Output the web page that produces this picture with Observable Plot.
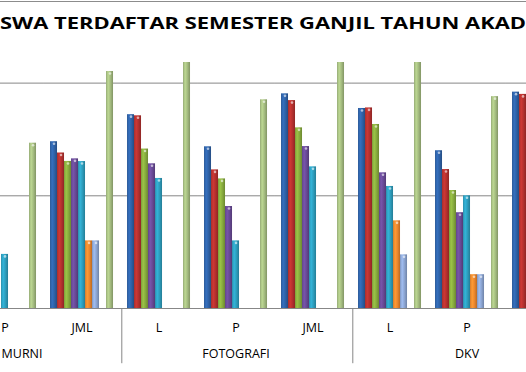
<!DOCTYPE html>
<html><head><meta charset="utf-8">
<script src="https://cdn.jsdelivr.net/npm/d3@7"></script>
<script src="https://cdn.jsdelivr.net/npm/@observablehq/plot@0.6"></script>
<style>
html,body{margin:0;padding:0;background:#fff;}
#wrap{position:relative;width:526px;height:372px;overflow:hidden;background:#fff;font-family:"Open Sans",sans-serif;}
#head{position:absolute;left:0;top:0;}
#chart{position:absolute;left:-35.37px;top:40px;width:619px;height:332px;}
#chart svg{max-width:none !important;width:619px !important;height:332px !important;display:block;}
</style></head><body>
<div id="wrap">
<svg id="head" width="526" height="40"></svg>
<div id="chart"></div>
</div>
<script>
// ---- data ----
const titleText = "SWA TERDAFTAR SEMESTER GANJIL TAHUN AKAD";
const groups     = ["MURNI", "MURNI", "FOTOGRAFI", "FOTOGRAFI", "FOTOGRAFI", "DKV", "DKV", "DKV"];
const categories = ["P", "JML", "L", "P", "JML", "L", "P", "JML"];
const seriesKeys = ["s1", "s2", "s3", "s4", "s5", "s6", "s7", "s8", "s9"];
const seriesColors = ["#2f63a9", "#b7312f", "#8aae3f", "#6a4b98", "#2ea0c0", "#ef892e", "#8ea8d6", "#d99694", "#a7bf82"];
// null = outside the visible crop of the picture
const s1 = [null, 148, 172, 143.5, 190.5, 177.5, 140, 192];
const s2 = [null, 138, 171, 123, 184.5, 178, 123.3, 190];
const s3 = [null, 130.5, 141.5, 115, 160.3, 163.3, 104.7, null];
const s4 = [null, 132.8, 128.4, 90.5, 143.7, 120.4, 85, null];
const s5 = [48, 130.4, 115.4, 60, 125.7, 108.3, 100, null];
const s6 = [0, 60, 0, 0, 0, 77.8, 30, null];
const s7 = [0, 60, 0, 0, 0, 47.6, 30, null];
const s8 = [0, 0, 0, 0, 0, 0, 0, null];
const s9 = [146.7, 210.3, 250, 185.2, 300, 260, 188, null];
const gridValues = [100, 200];

const seriesValues = {s1, s2, s3, s4, s5, s6, s7, s8, s9};
const keys = categories.map((c, i) => groups[i] + "|" + c);
const rows = [];
categories.forEach((c, i) => {
  seriesKeys.forEach(s => {
    const v = seriesValues[s][i];
    if (v != null) rows.push({key: keys[i], i, group: groups[i], cat: c, series: s, value: v});
  });
});
const isGroupStart = i => i > 0 && groups[i] !== groups[i - 1];
const groupMid = {MURNI: 0, FOTOGRAFI: 3, DKV: 6};

const facetW = 77.37;
const bandW = facetW / 10.5;

const chart = Plot.plot({
  width: facetW * 8, height: 332,
  marginTop: 22, marginBottom: 64, marginLeft: 0, marginRight: 0,
  style: {fontFamily: "'Open Sans', sans-serif", fontSize: "12.5px", color: "#000", background: "transparent", overflow: "visible"},
  facet: {data: rows, x: "key"},
  fx: {domain: keys, padding: 0, axis: "bottom", tickSize: 0, tickPadding: 15, label: null, tickFormat: k => k.split("|")[1]},
  x: {domain: seriesKeys, paddingInner: 0, paddingOuter: 0.75, axis: null},
  y: {domain: [0, 218.3], axis: null},
  color: {domain: seriesKeys, range: seriesKeys.map(s => `url(#grad-${s})`)},
  marks: [
    Plot.ruleY(gridValues, {stroke: "#878787", strokeWidth: 1}),
    Plot.barY(rows, {x: "series", y: "value", fill: "series", clip: true}),
    Plot.dot(rows, {filter: d => d.value > 0, x: "series", y: "value", dy: 2, r: 1.3, fill: "white", fillOpacity: 0.6, stroke: "none", clip: true}),
    Plot.ruleY([0], {stroke: "#878787", strokeWidth: 1}),
    Plot.ruleX(rows, {filter: d => d.series === "s1" && isGroupStart(d.i), x: "series", y1: 0, y2: -49, dx: -1.25 * bandW, stroke: "#878787"}),
    Plot.text(rows, {filter: d => d.series === "s5" && d.group !== "MURNI" && groupMid[d.group] === d.i, x: "series", text: "group", frameAnchor: "bottom", dy: 49}),
    Plot.text(rows, {filter: d => d.series === "s5" && d.group === "MURNI" && groupMid[d.group] === d.i, x: "series", text: "group", frameAnchor: "bottom", dy: 49, dx: 17})
  ]
});

// cylinder-like shading for each series colour
const defs = d3.select(chart).insert("defs", ":first-child");
seriesKeys.forEach((s, k) => {
  const base = d3.color(seriesColors[k]);
  const g = defs.append("linearGradient").attr("id", `grad-${s}`).attr("x1", 0).attr("x2", 1).attr("y1", 0).attr("y2", 0);
  g.append("stop").attr("offset", "0%").attr("stop-color", base.darker(0.35).formatHex());
  g.append("stop").attr("offset", "30%").attr("stop-color", base.brighter(0.35).formatHex());
  g.append("stop").attr("offset", "60%").attr("stop-color", base.formatHex());
  g.append("stop").attr("offset", "100%").attr("stop-color", base.darker(0.7).formatHex());
});
document.getElementById("chart").appendChild(chart);

// header: frame line and (cropped) title
const head = d3.select("#head");
head.append("line").attr("x1", 0).attr("x2", 526).attr("y1", 1.5).attr("y2", 1.5).attr("stroke", "#8c8c8c").attr("stroke-width", 1.2);
head.append("text").attr("x", 0).attr("y", 28.5)
  .attr("font-family", "'Open Sans', sans-serif").attr("font-size", 16.4).attr("font-weight", "bold")
  .attr("textLength", 526).attr("lengthAdjust", "spacingAndGlyphs").attr("fill", "#000")
  .text(titleText);
</script>
</body></html>
